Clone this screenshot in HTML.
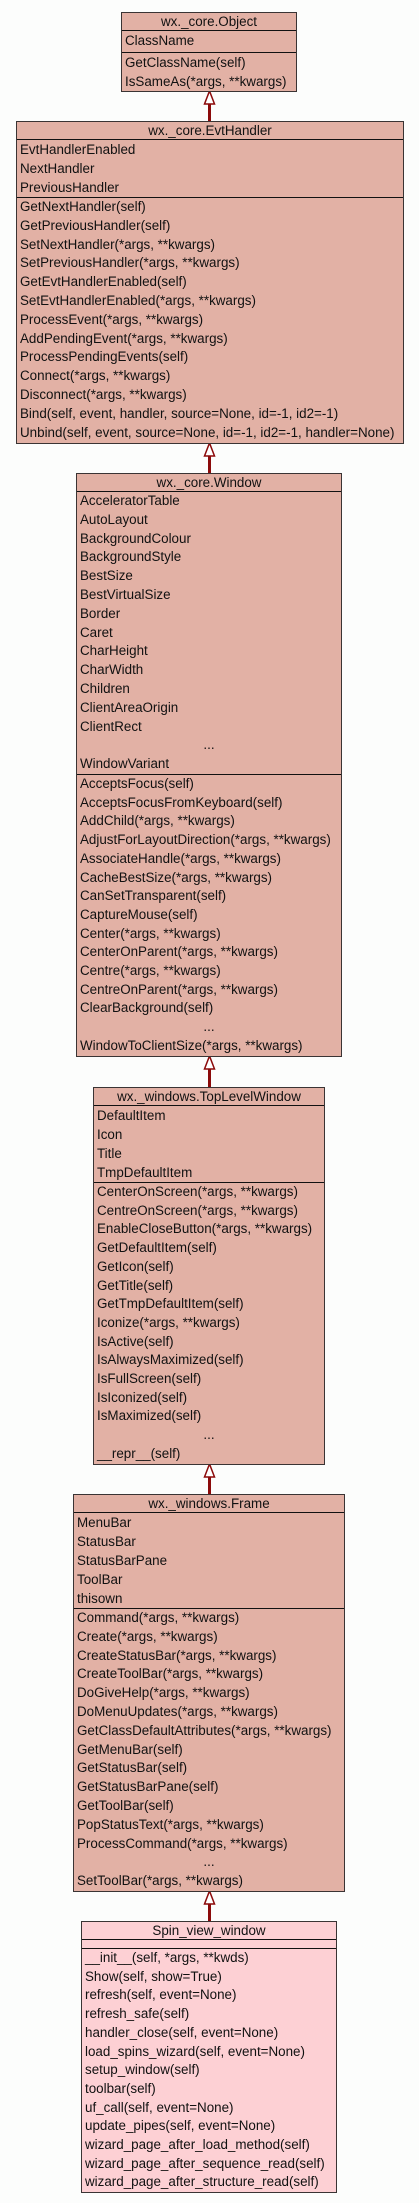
<!DOCTYPE html>
<html><head><meta charset="utf-8"><style>
html,body{margin:0;padding:0}
body{width:419px;height:2203px;background:#fcfdfc;position:relative;overflow:hidden;font-family:"Liberation Sans",sans-serif;font-size:13.4px;color:#111}
.b{position:absolute;box-sizing:border-box;border:1px solid #3a3434;background:#e2b1a5}
.b.p{background:#fdd0d4}
.t{text-align:center;box-sizing:border-box;white-space:nowrap}
.s{border-top:1.5px solid #111;box-sizing:border-box;overflow:hidden;padding-left:3px;white-space:nowrap}
.s div.c{text-align:center;padding-right:3px}
svg{position:absolute;left:0;top:0}
</style></head><body>
<svg width="419" height="2203">
<g stroke="#8b0a0a" fill="#fff" stroke-width="1.5">
<line x1="209.5" y1="104" x2="209.5" y2="121" stroke-width="3"/><polygon points="209.5,91 204.5,104 214.5,104"/>
<line x1="209.5" y1="456" x2="209.5" y2="473" stroke-width="3"/><polygon points="209.5,443 204.5,456 214.5,456"/>
<line x1="209.5" y1="1069" x2="209.5" y2="1087" stroke-width="3"/><polygon points="209.5,1056 204.5,1069 214.5,1069"/>
<line x1="209.5" y1="1477" x2="209.5" y2="1494" stroke-width="3"/><polygon points="209.5,1464 204.5,1477 214.5,1477"/>
<line x1="209.5" y1="1904" x2="209.5" y2="1921" stroke-width="3"/><polygon points="209.5,1891 204.5,1904 214.5,1904"/>
</g></svg>

<div class="b" style="left:121px;top:12px;width:176px;height:80px">
<div class="t" style="height:17px;line-height:17px">wx._core.Object</div>
<div class="s" style="height:22px;line-height:20px">ClassName</div>
<div class="s" style="height:39px;line-height:19px">GetClassName(self)<br>IsSameAs(*args, **kwargs)</div>
</div>

<div class="b" style="left:16px;top:121px;width:388px;height:323px">
<div class="t" style="height:17px;line-height:17px">wx._core.EvtHandler</div>
<div class="s" style="height:58px;line-height:19px">EvtHandlerEnabled<br>NextHandler<br>PreviousHandler</div>
<div class="s" style="height:246px;line-height:18.8px">GetNextHandler(self)<br>GetPreviousHandler(self)<br>SetNextHandler(*args, **kwargs)<br>SetPreviousHandler(*args, **kwargs)<br>GetEvtHandlerEnabled(self)<br>SetEvtHandlerEnabled(*args, **kwargs)<br>ProcessEvent(*args, **kwargs)<br>AddPendingEvent(*args, **kwargs)<br>ProcessPendingEvents(self)<br>Connect(*args, **kwargs)<br>Disconnect(*args, **kwargs)<br>Bind(self, event, handler, source=None, id=-1, id2=-1)<br>Unbind(self, event, source=None, id=-1, id2=-1, handler=None)</div>
</div>

<div class="b" style="left:76px;top:473px;width:266px;height:584px">
<div class="t" style="height:17px;line-height:17px">wx._core.Window</div>
<div class="s" style="height:283px;line-height:18.8px">AcceleratorTable<br>AutoLayout<br>BackgroundColour<br>BackgroundStyle<br>BestSize<br>BestVirtualSize<br>Border<br>Caret<br>CharHeight<br>CharWidth<br>Children<br>ClientAreaOrigin<br>ClientRect<div class="c">...</div>WindowVariant</div>
<div class="s" style="height:282px;line-height:18.7px">AcceptsFocus(self)<br>AcceptsFocusFromKeyboard(self)<br>AddChild(*args, **kwargs)<br>AdjustForLayoutDirection(*args, **kwargs)<br>AssociateHandle(*args, **kwargs)<br>CacheBestSize(*args, **kwargs)<br>CanSetTransparent(self)<br>CaptureMouse(self)<br>Center(*args, **kwargs)<br>CenterOnParent(*args, **kwargs)<br>Centre(*args, **kwargs)<br>CentreOnParent(*args, **kwargs)<br>ClearBackground(self)<div class="c">...</div>WindowToClientSize(*args, **kwargs)</div>
</div>

<div class="b" style="left:93px;top:1087px;width:232px;height:378px">
<div class="t" style="height:17px;line-height:17px">wx._windows.TopLevelWindow</div>
<div class="s" style="height:77px;line-height:19px">DefaultItem<br>Icon<br>Title<br>TmpDefaultItem</div>
<div class="s" style="height:282px;line-height:18.7px">CenterOnScreen(*args, **kwargs)<br>CentreOnScreen(*args, **kwargs)<br>EnableCloseButton(*args, **kwargs)<br>GetDefaultItem(self)<br>GetIcon(self)<br>GetTitle(self)<br>GetTmpDefaultItem(self)<br>Iconize(*args, **kwargs)<br>IsActive(self)<br>IsAlwaysMaximized(self)<br>IsFullScreen(self)<br>IsIconized(self)<br>IsMaximized(self)<div class="c">...</div>__repr__(self)</div>
</div>

<div class="b" style="left:73px;top:1494px;width:272px;height:398px">
<div class="t" style="height:17px;line-height:17px">wx._windows.Frame</div>
<div class="s" style="height:96px;line-height:19px">MenuBar<br>StatusBar<br>StatusBarPane<br>ToolBar<br>thisown</div>
<div class="s" style="height:283px;line-height:18.8px">Command(*args, **kwargs)<br>Create(*args, **kwargs)<br>CreateStatusBar(*args, **kwargs)<br>CreateToolBar(*args, **kwargs)<br>DoGiveHelp(*args, **kwargs)<br>DoMenuUpdates(*args, **kwargs)<br>GetClassDefaultAttributes(*args, **kwargs)<br>GetMenuBar(self)<br>GetStatusBar(self)<br>GetStatusBarPane(self)<br>GetToolBar(self)<br>PopStatusText(*args, **kwargs)<br>ProcessCommand(*args, **kwargs)<div class="c">...</div>SetToolBar(*args, **kwargs)</div>
</div>

<div class="b p" style="left:81px;top:1921px;width:256px;height:272px">
<div class="t" style="height:17px;line-height:17px">Spin_view_window</div>
<div class="s" style="height:9px"></div>
<div class="s" style="height:244px;line-height:18.7px">__init__(self, *args, **kwds)<br>Show(self, show=True)<br>refresh(self, event=None)<br>refresh_safe(self)<br>handler_close(self, event=None)<br>load_spins_wizard(self, event=None)<br>setup_window(self)<br>toolbar(self)<br>uf_call(self, event=None)<br>update_pipes(self, event=None)<br>wizard_page_after_load_method(self)<br>wizard_page_after_sequence_read(self)<br>wizard_page_after_structure_read(self)</div>
</div>
</body></html>
